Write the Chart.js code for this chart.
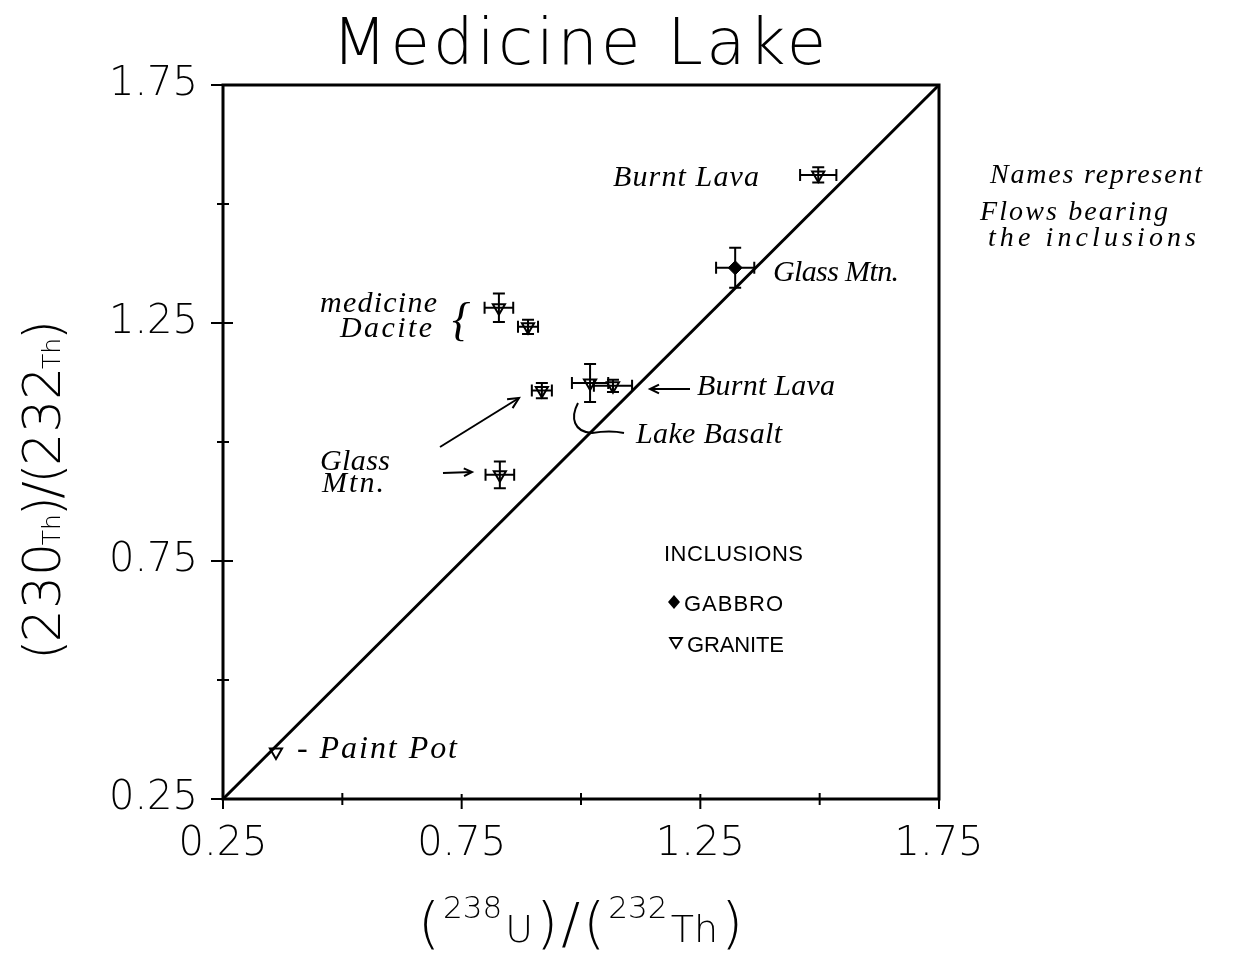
<!DOCTYPE html>
<html><head><meta charset="utf-8">
<script src="https://cdn.jsdelivr.net/npm/chart.js@4.4.0/dist/chart.umd.min.js"></script>
<style>html,body{margin:0;padding:0;background:#fff}#wrap{width:1233px;height:957px;position:relative}</style>
</head><body><div id="wrap"><canvas id="c"></canvas></div>
<script>
// ---- data ----
const graniteFlows = ['Burnt Lava','Medicine Dacite','Medicine Dacite','Glass Mtn.','Lake Basalt','Burnt Lava','Glass Mtn.','Paint Pot'];
const graniteX    = [1.497, 0.828, 0.889, 0.918, 1.019, 1.067, 0.830, 0.361];
const graniteY    = [1.561, 1.282, 1.242, 1.108, 1.124, 1.118, 0.931, 0.349];
const graniteXErr = [0.038, 0.030, 0.021, 0.021, 0.038, 0.040, 0.030, 0];
const graniteYErr = [0.016, 0.030, 0.015, 0.016, 0.040, 0.013, 0.028, 0];
const gabbroFlows = ['Glass Mtn.'];
const gabbroX     = [1.323];
const gabbroY     = [1.366];
const gabbroXErr  = [0.040];
const gabbroYErr  = [0.042];
const equilineX   = [0.25, 1.75];
const equilineY   = [0.25, 1.75];
const axisMin = 0.25, axisMax = 1.75, tickStep = 0.25;

const FONT = '"DejaVu Sans"';
const HAND = '"Liberation Serif"';

function pts(xs, ys){ return xs.map((x,i)=>({x:x, y:ys[i]})); }

function fitText(ctx, text, font, x, y, w){
  ctx.font = font; ctx.letterSpacing = '0px';
  const m = ctx.measureText(text).width;
  const n = [...text].length;
  const ls = n > 1 ? (w - m) / (n - 1) : 0;
  ctx.letterSpacing = ls + 'px';
  ctx.textAlign = 'left'; ctx.textBaseline = 'alphabetic';
  ctx.fillText(text, x, y);
  ctx.letterSpacing = '0px';
}
function drawRuns(ctx, runs, x0, y0, w){
  let total = 0;
  runs.forEach(r => { ctx.font = r.font; r.w = ctx.measureText(r.t).width; total += r.w; });
  const gap = runs.length > 1 ? (w - total) / (runs.length - 1) : 0;
  let x = x0;
  ctx.textAlign = 'left'; ctx.textBaseline = 'alphabetic';
  runs.forEach(r => { ctx.font = r.font; ctx.fillText(r.t, x, y0 - (r.dy||0)); x += r.w + gap; });
}
function arrow(ctx, x1, y1, x2, y2, head){
  ctx.beginPath(); ctx.moveTo(x1,y1); ctx.lineTo(x2,y2); ctx.stroke();
  const a = Math.atan2(y2-y1, x2-x1), h = head || 10;
  ctx.beginPath();
  ctx.moveTo(x2 - h*Math.cos(a-0.45), y2 - h*Math.sin(a-0.45));
  ctx.lineTo(x2, y2);
  ctx.lineTo(x2 - h*Math.cos(a+0.45), y2 - h*Math.sin(a+0.45));
  ctx.stroke();
}

const errorBars = {
  id: 'errorBars',
  beforeDatasetsDraw(chart){
    const {ctx, scales:{x, y}} = chart;
    ctx.save(); ctx.strokeStyle = '#000'; ctx.lineWidth = 2;
    chart.data.datasets.forEach(ds => {
      if (!ds.errX) return;
      ds.data.forEach((p, i) => {
        const px = x.getPixelForValue(p.x), py = y.getPixelForValue(p.y);
        const ex = ds.errX[i], ey = ds.errY[i], c = 6;
        if (ex > 0){
          const l = x.getPixelForValue(p.x - ex), r = x.getPixelForValue(p.x + ex);
          ctx.beginPath(); ctx.moveTo(l, py); ctx.lineTo(r, py);
          ctx.moveTo(l, py-c); ctx.lineTo(l, py+c); ctx.moveTo(r, py-c); ctx.lineTo(r, py+c); ctx.stroke();
        }
        if (ey > 0){
          const t = y.getPixelForValue(p.y + ey), b = y.getPixelForValue(p.y - ey);
          ctx.beginPath(); ctx.moveTo(px, t); ctx.lineTo(px, b);
          ctx.moveTo(px-c, t); ctx.lineTo(px+c, t); ctx.moveTo(px-c, b); ctx.lineTo(px+c, b); ctx.stroke();
        }
      });
    });
    ctx.restore();
  }
};

const frame = {
  id: 'frame',
  afterDraw(chart){
    const {ctx, chartArea:a, scales:{x, y}} = chart;
    ctx.save(); ctx.strokeStyle = '#000';
    ctx.lineWidth = 3;
    ctx.strokeRect(a.left, a.top, a.right - a.left, a.bottom - a.top);
    ctx.lineWidth = 2;
    x.ticks.forEach((t, i) => {
      const px = x.getPixelForValue(t.value);
      const major = i % 2 === 0;
      ctx.beginPath(); ctx.moveTo(px, a.bottom - (major?5:6)); ctx.lineTo(px, a.bottom + (major?10:6)); ctx.stroke();
    });
    y.ticks.forEach((t, i) => {
      const py = y.getPixelForValue(t.value);
      const major = i % 2 === 0;
      ctx.beginPath(); ctx.moveTo(a.left - (major?12:6), py); ctx.lineTo(a.left + (major?10:6), py); ctx.stroke();
    });
    ctx.restore();
  }
};

const texts = {
  id: 'texts',
  afterDraw(chart){
    const ctx = chart.ctx;
    ctx.save(); ctx.fillStyle = '#000'; ctx.strokeStyle = '#000';
    // title
    fitText(ctx, 'Medicine Lake', `200 64px ${FONT}`, 332, 64, 494);
    // x-axis title
    const big = `200 56px ${FONT}`, mid = `200 38px ${FONT}`, sup = `200 31px ${FONT}`;
    drawRuns(ctx, [
      {t:'(', font:big}, {t:'238', font:sup, dy:24}, {t:'U', font:mid}, {t:')', font:big},
      {t:'/', font:big}, {t:'(', font:big}, {t:'232', font:sup, dy:24}, {t:'Th', font:mid}, {t:')', font:big}
    ], 418, 942, 325);
    // y-axis title
    ctx.save(); ctx.translate(60, 660); ctx.rotate(-Math.PI/2);
    const yd = `200 52px ${FONT}`, yt = `200 25px ${FONT}`;
    drawRuns(ctx, [
      {t:'(', font:yd}, {t:'230', font:yd}, {t:'Th', font:yt}, {t:')', font:yd},
      {t:'/', font:yd}, {t:'(', font:yd}, {t:'232', font:yd}, {t:'Th', font:yt}, {t:')', font:yd}
    ], 0, 0, 340);
    ctx.restore();

    // handwritten annotations
    const hf = `italic 30px ${HAND}`;
    fitText(ctx, 'Burnt Lava', hf, 613, 186, 146);
    fitText(ctx, 'Glass Mtn.', hf, 773, 281, 126);
    fitText(ctx, 'medicine', hf, 320, 312, 117);
    fitText(ctx, 'Dacite', hf, 340, 337, 92);
    fitText(ctx, 'Burnt Lava', hf, 697, 395, 138);
    fitText(ctx, 'Lake Basalt', hf, 636, 443, 146);
    fitText(ctx, 'Glass', hf, 320, 470, 70);
    fitText(ctx, 'Mtn.', hf, 322, 492, 62);
    fitText(ctx, '- Paint Pot', `italic 32px ${HAND}`, 297, 758, 160);
    const nf = `italic 28px ${HAND}`;
    fitText(ctx, 'Names represent', nf, 990, 183, 212);
    fitText(ctx, 'Flows bearing', nf, 980, 220, 188);
    fitText(ctx, 'the inclusions', nf, 988, 246, 208);
    // brace
    ctx.font = `italic 46px ${HAND}`; ctx.textAlign = 'left';
    ctx.fillText('{', 452, 335);
    // arrows and curve
    ctx.lineWidth = 2;
    arrow(ctx, 690, 389, 650, 389, 10);
    arrow(ctx, 440, 447, 519, 398, 12);
    arrow(ctx, 443, 473, 472, 472, 9);
    ctx.beginPath(); ctx.moveTo(578, 403);
    ctx.bezierCurveTo(570, 418, 574, 432, 592, 433);
    ctx.quadraticCurveTo(610, 430, 624, 433); ctx.stroke();

    // legend
    fitText(ctx, 'INCLUSIONS', `22px "Liberation Sans"`, 664, 561, 139);
    ctx.beginPath(); ctx.moveTo(674, 595); ctx.lineTo(680, 602); ctx.lineTo(674, 609); ctx.lineTo(668, 602); ctx.closePath(); ctx.fill();
    fitText(ctx, 'GABBRO', `22px "Liberation Sans"`, 684, 611, 99);
    ctx.lineWidth = 1.8;
    ctx.beginPath(); ctx.moveTo(670, 638); ctx.lineTo(682, 638); ctx.lineTo(676, 648); ctx.closePath(); ctx.stroke();
    fitText(ctx, 'GRANITE', `22px "Liberation Sans"`, 687, 652, 97);
    ctx.restore();
  }
};

new Chart(document.getElementById('c'), {
  type: 'scatter',
  data: { datasets: [
    { label: '1:1', type: 'line', data: pts(equilineX, equilineY), borderColor: '#000', borderWidth: 3, pointRadius: 0, fill: false },
    { label: 'GABBRO', data: pts(gabbroX, gabbroY), errX: gabbroXErr, errY: gabbroYErr,
      pointStyle: 'rectRot', pointRadius: 7, backgroundColor: '#000', borderColor: '#000', borderWidth: 1 },
    { label: 'GRANITE', data: pts(graniteX, graniteY), errX: graniteXErr, errY: graniteYErr,
      pointStyle: 'triangle', rotation: 180, pointRadius: 7, backgroundColor: 'rgba(0,0,0,0)', borderColor: '#000', borderWidth: 2 }
  ]},
  options: {
    responsive: true, maintainAspectRatio: false, animation: false,
    layout: { padding: { top: 85, right: 294, left: 0, bottom: 0 } },
    plugins: { legend: { display: false }, tooltip: { enabled: false }, title: { display: false } },
    scales: {
      x: { type: 'linear', min: axisMin, max: axisMax,
        afterFit(s){ s.height = 158; },
        grid: { display: false, drawTicks: false }, border: { display: false },
        ticks: { stepSize: tickStep, padding: 22, color: '#000', autoSkip: false, maxRotation: 0,
          font: { family: 'DejaVu Sans', size: 40, weight: '200' },
          callback(v, i){ return i % 2 === 0 ? v.toFixed(2) : ''; } } },
      y: { type: 'linear', min: axisMin, max: axisMax,
        afterFit(s){ s.width = 223; },
        grid: { display: false, drawTicks: false }, border: { display: false },
        ticks: { stepSize: tickStep, padding: 25, color: '#000', autoSkip: false,
          font: { family: 'DejaVu Sans', size: 40, weight: '200' },
          callback(v, i){ return i % 2 === 0 ? v.toFixed(2) : ''; } } }
    }
  },
  plugins: [errorBars, frame, texts]
});
</script></body></html>
